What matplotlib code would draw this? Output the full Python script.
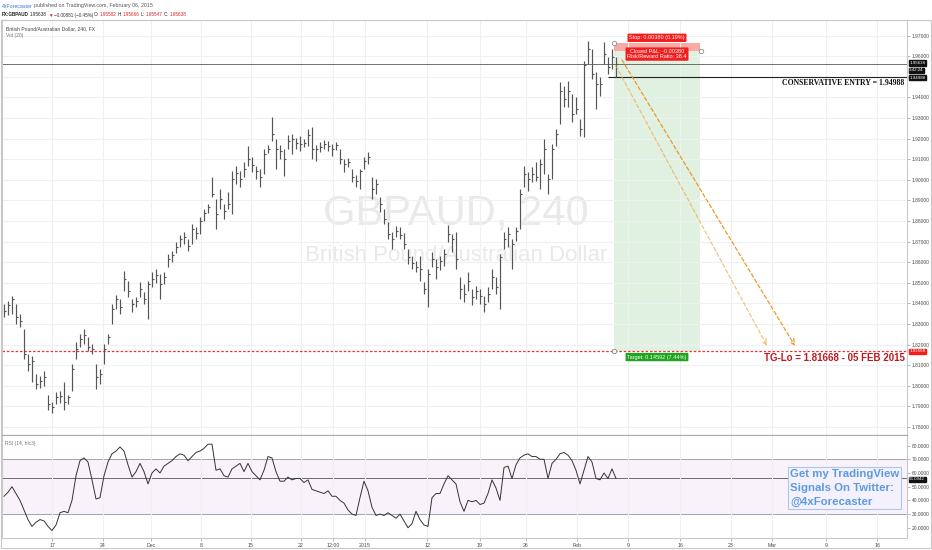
import numpy as np
import matplotlib.pyplot as plt
from matplotlib.patches import Rectangle
from matplotlib.transforms import blended_transform_factory

plt.rcParams['font.family'] = ['Liberation Sans', 'DejaVu Sans']

# GBPAUD bars (roughly two 4h candles per bar), mid Nov 2014 -> Feb 06 2015
bar_high = [
    1.8396, 1.8410, 1.8435, 1.8396, 1.8347, 1.8274, 1.8153, 1.8143, 1.8056, 1.8046,
    1.8070, 1.7958, 1.7924, 1.7968, 1.7973, 1.8017, 1.7958, 1.8104, 1.8211, 1.8250,
    1.8274, 1.8235, 1.8201, 1.8104, 1.8080, 1.8201, 1.8250, 1.8396, 1.8439, 1.8420,
    1.8556, 1.8507, 1.8420, 1.8430, 1.8502, 1.8454, 1.8507, 1.8551, 1.8566, 1.8541,
    1.8551, 1.8639, 1.8653, 1.8697, 1.8731, 1.8746, 1.8712, 1.8785, 1.8770, 1.8819,
    1.8857, 1.8882, 1.9013, 1.8906, 1.8955, 1.8882, 1.8940, 1.9042, 1.9066, 1.9042,
    1.9086, 1.9164, 1.9110, 1.9066, 1.9052, 1.9149, 1.9168, 1.9305, 1.9198, 1.9168,
    1.9149, 1.9217, 1.9222, 1.9203, 1.9212, 1.9198, 1.9246, 1.9256, 1.9168, 1.9183,
    1.9193, 1.9188, 1.9173, 1.9183, 1.9149, 1.9100, 1.9105, 1.9052, 1.9023, 1.9052,
    1.9110, 1.9134, 1.9013, 1.9003, 1.8916, 1.8857, 1.8794, 1.8746, 1.8775, 1.8770,
    1.8741, 1.8663, 1.8629, 1.8605, 1.8629, 1.8502, 1.8566, 1.8648, 1.8614, 1.8629,
    1.8663, 1.8780, 1.8736, 1.8746, 1.8527, 1.8493, 1.8551, 1.8469, 1.8483, 1.8469,
    1.8435, 1.8478, 1.8566, 1.8527, 1.8639, 1.8746, 1.8770, 1.8712, 1.8770, 1.8955,
    1.9066, 1.9037, 1.9062, 1.9086, 1.9100, 1.9198, 1.9028, 1.9173, 1.9246, 1.9475,
    1.9455, 1.9479, 1.9416, 1.9402, 1.9295, 1.9577, 1.9674, 1.9635, 1.9523, 1.9499,
    1.9669, 1.9596, 1.9635, 1.9596]
bar_low = [
    1.8333, 1.8342, 1.8347, 1.8298, 1.8284, 1.8128, 1.8070, 1.8017, 1.7983, 1.7992,
    1.7997, 1.7885, 1.7866, 1.7910, 1.7919, 1.7885, 1.7910, 1.7973, 1.8128, 1.8187,
    1.8201, 1.8167, 1.8153, 1.7983, 1.8007, 1.8104, 1.8201, 1.8298, 1.8371, 1.8347,
    1.8459, 1.8430, 1.8357, 1.8381, 1.8430, 1.8396, 1.8323, 1.8478, 1.8498, 1.8420,
    1.8493, 1.8576, 1.8600, 1.8644, 1.8673, 1.8687, 1.8653, 1.8687, 1.8712, 1.8736,
    1.8799, 1.8838, 1.8916, 1.8760, 1.8857, 1.8809, 1.8857, 1.8833, 1.8979, 1.8964,
    1.9013, 1.9066, 1.9037, 1.9003, 1.8964, 1.9028, 1.9130, 1.9188, 1.9052, 1.9100,
    1.9018, 1.9149, 1.9125, 1.9149, 1.9139, 1.9159, 1.9164, 1.9100, 1.9091, 1.9134,
    1.9149, 1.9139, 1.9115, 1.9144, 1.9076, 1.9037, 1.9062, 1.8989, 1.8964, 1.8955,
    1.9052, 1.9076, 1.8906, 1.8930, 1.8843, 1.8785, 1.8712, 1.8663, 1.8721, 1.8712,
    1.8663, 1.8590, 1.8566, 1.8551, 1.8507, 1.8444, 1.8381, 1.8576, 1.8517, 1.8561,
    1.8580, 1.8697, 1.8648, 1.8566, 1.8420, 1.8405, 1.8459, 1.8391, 1.8420, 1.8396,
    1.8357, 1.8405, 1.8469, 1.8444, 1.8371, 1.8663, 1.8673, 1.8566, 1.8702, 1.8760,
    1.8964, 1.8945, 1.8989, 1.8993, 1.8955, 1.9028, 1.8930, 1.9003, 1.9164, 1.9271,
    1.9353, 1.9353, 1.9280, 1.9319, 1.9212, 1.9207, 1.9562, 1.9489, 1.9343, 1.9407,
    1.9562, 1.9513, 1.9538, 1.9499]
bar_close = [
    1.8362, 1.8391, 1.8420, 1.8333, 1.8313, 1.8153, 1.8104, 1.8119, 1.8007, 1.8022,
    1.8041, 1.7910, 1.7895, 1.7944, 1.7953, 1.7924, 1.7944, 1.8080, 1.8177, 1.8226,
    1.8245, 1.8187, 1.8177, 1.8041, 1.8056, 1.8177, 1.8235, 1.8371, 1.8420, 1.8381,
    1.8517, 1.8459, 1.8396, 1.8410, 1.8469, 1.8420, 1.8493, 1.8517, 1.8537, 1.8493,
    1.8527, 1.8614, 1.8634, 1.8673, 1.8712, 1.8721, 1.8678, 1.8760, 1.8741, 1.8799,
    1.8838, 1.8867, 1.8930, 1.8833, 1.8906, 1.8848, 1.8882, 1.9003, 1.9032, 1.9003,
    1.9052, 1.9100, 1.9071, 1.9042, 1.9013, 1.9125, 1.9149, 1.9222, 1.9149, 1.9139,
    1.9100, 1.9188, 1.9198, 1.9178, 1.9173, 1.9178, 1.9217, 1.9149, 1.9149, 1.9159,
    1.9173, 1.9164, 1.9149, 1.9168, 1.9100, 1.9076, 1.9086, 1.9013, 1.8993, 1.9042,
    1.9091, 1.9110, 1.8955, 1.8979, 1.8882, 1.8809, 1.8736, 1.8712, 1.8750, 1.8731,
    1.8687, 1.8624, 1.8595, 1.8576, 1.8566, 1.8469, 1.8541, 1.8614, 1.8576, 1.8605,
    1.8639, 1.8736, 1.8712, 1.8614, 1.8469, 1.8444, 1.8507, 1.8430, 1.8459, 1.8435,
    1.8396, 1.8444, 1.8527, 1.8478, 1.8624, 1.8712, 1.8736, 1.8687, 1.8750, 1.8930,
    1.9028, 1.9003, 1.9028, 1.9013, 1.9076, 1.9149, 1.9003, 1.9149, 1.9222, 1.9431,
    1.9392, 1.9431, 1.9319, 1.9343, 1.9246, 1.9557, 1.9635, 1.9513, 1.9465, 1.9465,
    1.9611, 1.9548, 1.9596, 1.95638]
# RSI(14, hlc3), one value per bar above
rsi_vals = [
    43, 46, 50, 45, 40, 33, 26, 21, 24, 26,
    25, 21, 18, 22, 31, 32, 31, 40, 58, 69,
    71, 68, 55, 41, 42, 58, 68, 74, 76, 79,
    76, 66, 57, 61, 67, 61, 52, 60, 63, 60,
    65, 67, 69, 72, 74, 73, 69, 72, 75, 76,
    78, 81, 81, 62, 63, 58, 57, 63, 65, 67,
    61, 67, 61, 58, 55, 62, 72, 71, 61, 54,
    54, 57, 55, 56, 56, 53, 55, 48, 47, 46,
    45, 47, 43, 43, 40, 38, 33, 30, 29, 42,
    54, 47, 35, 29, 30, 29, 31, 29, 27, 30,
    25, 20, 23, 32, 26, 22, 21, 42, 45, 45,
    52, 58, 55, 52, 39, 32, 40, 39, 40, 37,
    38, 45, 55, 49, 40, 64, 65, 56, 66, 71,
    73, 74, 72, 72, 70, 70, 56, 67, 70, 74,
    75, 73, 69, 62, 52, 62, 72, 68, 56, 55,
    60, 56, 63, 56.0942]
assert len(bar_high) == len(bar_low) == len(bar_close) == len(rsi_vals)

# time axis labels, positions in bar units
time_ticks = [12, 24.75, 36.75, 49.25, 61.75, 74.25, 82.25, 90.25, 105.75,
              119, 130.5, 143.25, 156, 169, 181.75, 192, 205.5, 218.25]
time_labels = ["17", "24", "Dec", "8", "15", "22", "12:00", "2015", "12",
               "19", "26", "Feb", "9", "16", "23", "Mar", "9", "16"]

last_price = 1.95638
cons_entry = 1.94988
tg_lo = 1.81668
pos_entry = 1.96260
pos_stop = 1.96640
pos_x = [152.5, 174]
cons_start = 151
proj_a = [(153, 1.9553), (190.75, 1.8194)]
proj_b = [(154.5, 1.9582), (197.75, 1.8194)]
ohlc = ["1.95582", "1.95666", "1.95547", "1.95638"]

W, H = 932, 550
fig = plt.figure(figsize=(W / 100, H / 100), dpi=100)
renderer = fig.canvas.get_renderer()


def fx(x):
    return x / W


def fy(y):
    return 1 - y / H


def text_run(x_px, y_px, pieces, size, gap=1.3):
    # lay coloured pieces of one header line side by side
    x = x_px
    for txt, col, weight in pieces:
        t = fig.text(fx(x), fy(y_px), txt, fontsize=size, color=col, fontweight=weight, va='center')
        x += t.get_window_extent(renderer).width + gap


ax = fig.add_axes([fx(2), fy(436), fx(907) - fx(2), fy(20) - fy(436)])
ax_rsi = fig.add_axes([fx(2), fy(538), fx(907) - fx(2), fy(436) - fy(538)], sharex=ax)

bar_x = np.arange(len(bar_close))
ax.set_xlim(-0.5, 225.75)
ax.set_ylim(1.77566, 1.97760)
ax_rsi.set_ylim(12.55, 87.0)

grid_c = '#eef0f3'
for a in (ax, ax_rsi):
    a.set_xticks(time_ticks)
    a.grid(axis='x', color=grid_c, lw=0.8, zorder=0)
    a.yaxis.tick_right()
    a.tick_params(axis='y', labelsize=3.5, labelcolor='#4a4a4a', length=2,
                  width=0.5, color='#999999', pad=1.5)
    for s in a.spines.values():
        s.set_color('#c9c9c9')
        s.set_linewidth(0.8)
ax.tick_params(axis='x', labelbottom=False, length=0)
ax_rsi.set_xticklabels(time_labels)
ax_rsi.tick_params(axis='x', labelsize=3.8, labelcolor='#4a4a4a', length=2,
                   width=0.5, color='#999999', pad=1.5)
ax.spines['bottom'].set_color('#a9a9a9')
ax.spines['bottom'].set_linewidth(1.6)
ax_rsi.spines['top'].set_visible(False)


def price_fmt(v, pos):
    # the level tag on the axis covers this tick label in the chart
    return '' if abs(v - cons_entry) < 0.002 else f"{v:.5f}"


ax.set_yticks(np.arange(1.78, 1.9750, 0.01))
ax.yaxis.set_major_formatter(plt.FuncFormatter(price_fmt))
ax.grid(axis='y', color=grid_c, lw=0.8, zorder=0)
ax_rsi.set_yticks(np.arange(20, 81, 10))
ax_rsi.yaxis.set_major_formatter(plt.FormatStrFormatter('%.4f'))

# watermark
ax.text(0.5017, 0.536, "GBPAUD, 240", transform=ax.transAxes, ha='center', va='center',
        fontsize=30, color='#e9e9e9', zorder=0)
ax.text(0.5017, 0.435, "British Pound/Australian Dollar", transform=ax.transAxes,
        ha='center', va='center', fontsize=16, color='#e9e9e9', zorder=0)

# position tool (short): target and stop zones
ax.fill_between(pos_x, tg_lo, pos_entry, color='#4caf50', alpha=0.17, lw=0, zorder=1)
ax.fill_between(pos_x, pos_entry, pos_stop, color='#f44336', alpha=0.45, lw=0, zorder=1)

# OHLC bars
ax.vlines(bar_x, bar_low, bar_high, color='#555555', lw=0.85, zorder=3)
ax.hlines(bar_close, bar_x, bar_x + 0.45, color='#555555', lw=0.8, zorder=3)

# levels
ax.axhline(last_price, color='#5a5a5a', lw=0.6, zorder=2)
ax.hlines(cons_entry, cons_start, ax.get_xlim()[1], color='#222222', lw=0.8, zorder=2)
ax.axhline(tg_lo, color='#f03030', lw=0.9, ls=(0, (2, 1.5)), zorder=2)

# projection arrows
for (p0, p1), col, alp in ((proj_a, '#f0a53a', 0.65), (proj_b, '#ec9420', 0.95)):
    ax.annotate('', xy=p1, xytext=p0,
                arrowprops=dict(arrowstyle='->', color=col, alpha=alp, lw=0.9,
                                linestyle=(0, (3, 2)), shrinkA=0, shrinkB=0), zorder=4)

# handles of the position tool
ax.plot([pos_x[0], pos_x[1] + 0.25, pos_x[0]], [pos_stop, pos_entry, tg_lo], 'o', ms=3.2,
        mfc='white', mec='#8a8a8a', mew=0.6, zorder=6, ls='none')

mid = (pos_x[0] + pos_x[1]) / 2
box_kw = dict(boxstyle='round,pad=0.3,rounding_size=0.15', lw=0)
ax.annotate("Stop: 0.00380 (0.19%)", xy=(mid, pos_stop), xytext=(0, 2), textcoords='offset points',
            ha='center', va='bottom', fontsize=4, color='white', zorder=7,
            bbox=dict(fc='#f21d1d', **box_kw))
ax.annotate("Closed P&L: -0.00380\nRisk/Reward Ratio: 38.4", xy=(mid, pos_entry), xytext=(0, 1.3),
            textcoords='offset points', ha='center', va='top', fontsize=4, color='white',
            linespacing=1.0, zorder=7, bbox=dict(fc='#f21d1d', **box_kw))
ax.annotate("Target: 0.14592 (7.44%)", xy=(mid, tg_lo), xytext=(0, -2.2), textcoords='offset points',
            ha='center', va='top', fontsize=4, color='white', zorder=7,
            bbox=dict(fc='#1ea41e', **box_kw))

# annotation texts at right
right_tr = blended_transform_factory(ax.transAxes, ax.transData)
ax.annotate(f"CONSERVATIVE ENTRY = {cons_entry:.5f}", xy=(0.997, cons_entry), xycoords=right_tr,
            xytext=(0, -1.5), textcoords='offset points', ha='right', va='top',
            fontsize=5.6, fontweight='bold', family='Liberation Serif', color='#111111')
ax.annotate(f"TG-Lo = {tg_lo:.5f} - 05 FEB 2015", xy=(0.998, tg_lo), xycoords=right_tr,
            xytext=(0, -1.2), textcoords='offset points', ha='right', va='top',
            fontsize=7, fontweight='bold', color='#c0161d')


def axis_tag(a, y, text, bg, dy=0.0):
    tr = blended_transform_factory(a.transAxes, a.transData)
    a.annotate(text, xy=(1, y), xycoords=tr, xytext=(1.6, dy), textcoords='offset points',
               ha='left', va='center', fontsize=3.2, color='white', zorder=10,
               annotation_clip=False,
               bbox=dict(boxstyle='square,pad=0.12', fc=bg, ec=bg))


axis_tag(ax, last_price, f"{last_price:.5f}", '#111111', 0.5)
axis_tag(ax, last_price, "3:42:24", '#111111', -4.6)
axis_tag(ax, cons_entry, f"{cons_entry:.5f}", '#111111', -0.6)
axis_tag(ax, tg_lo, f"{tg_lo:.5f}", '#f21d1d')

# RSI pane
ax_rsi.axhspan(30, 70, color='#9c27b0', alpha=0.06, lw=0, zorder=0)
for lvl in (30, 70):
    ax_rsi.axhline(lvl, color='#a2a2b2', lw=0.7, zorder=1)
ax_rsi.axhline(rsi_vals[-1], color='#555555', lw=0.6, zorder=1)
ax_rsi.plot(bar_x, rsi_vals, color='#333333', lw=0.7, zorder=3)
axis_tag(ax_rsi, rsi_vals[-1], f"{rsi_vals[-1]:.4f}", '#111111', -0.8)

# pane titles
fig.text(fx(6), fy(29), "British Pound/Australian Dollar, 240, FX", fontsize=3.6,
         color='#444444', va='center')
fig.text(fx(6), fy(36), "Vol (20)", fontsize=3.6, color='#777777', va='center')
fig.text(fx(5), fy(443), "RSI (14, hlc3)", fontsize=3.6, color='#777777', va='center')

# header
text_run(2, 6, [("4xForecaster", '#2a7fd4', 'normal'),
                ("published on TradingView.com, February 06, 2015", '#555555', 'normal')], 3.8)
header2 = [("FX:GBPAUD", '#222222', 'bold'), (f"{last_price:.5f}", '#222222', 'normal'),
           ("\u25bc", '#e02020', 'normal'), ("\u22120.00881 (\u22120.45%)", '#333333', 'normal')]
for lab, val in zip("OHLC", ohlc):
    header2 += [(lab + ":", '#222222', 'normal'), (val, '#e02020', 'normal')]
text_run(2, 15, header2, 3.3, gap=1.0)

# promo box
fig.text(fx(790), fy(469), "Get my TradingView\nSignals On Twitter:\n@4xForecaster", fontsize=8.2,
         fontweight='bold', color='#5c9be0', va='top', ha='left', linespacing=1.5,
         bbox=dict(boxstyle='square,pad=0.15', fc='#f5f1fc', ec='#a9c8ef', lw=0.8), zorder=10)

# widget frame
fig.patches.append(Rectangle((fx(1), fy(548)), fx(931) - fx(1), fy(20) - fy(548),
                             transform=fig.transFigure, fill=False, ec='#c8c8c8', lw=0.8))

fig.savefig("out.png", dpi=100, facecolor='white')
